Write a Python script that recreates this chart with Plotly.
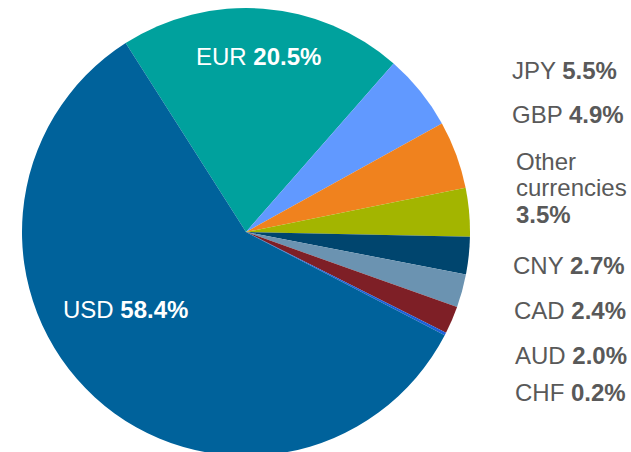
import plotly.graph_objects as go

currencies = ["EUR", "JPY", "GBP", "Other currencies", "CNY", "CAD", "AUD", "CHF", "USD"]
shares = [20.5, 5.5, 4.9, 3.5, 2.7, 2.4, 2.0, 0.2, 58.4]
colors = ["#00a19d", "#6199ff", "#f0821e", "#a3b500", "#00456e",
          "#6b93b1", "#7e1f26", "#1d5fd8", "#00629b"]

# pie circle runs slightly past the bottom edge in the reference
W, H = 631, 456
FONT = "Arial, Liberation Sans, sans-serif"
GREY = "#595959"


def px(x):
    return x / W


def py(y):
    return (H - y) / H


fig = go.Figure(go.Pie(
    labels=currencies,
    values=shares,
    marker=dict(colors=colors, line=dict(width=0)),
    sort=False,
    direction="clockwise",
    rotation=-32.5,
    textinfo="none",
    hoverinfo="label+value",
    showlegend=False,
    domain=dict(x=[px(22), px(470)], y=[0, py(8)]),
))


def label(name, val):
    return f"{name} <b>{val:.1f}%</b>"


annotations = []
annotations.append(dict(x=px(126), y=py(309), text=label("USD", shares[8]),
                        font=dict(family=FONT, size=24, color="white"),
                        xanchor="center", yanchor="middle"))
annotations.append(dict(x=px(258), y=py(56), text=label("EUR", shares[0]),
                        font=dict(family=FONT, size=24, color="white"),
                        xanchor="center", yanchor="middle"))

right = [
    (510, 70, label("JPY", shares[1])),
    (510, 115, label("GBP", shares[2])),
    (514, 161, "Other"),
    (514, 188, "currencies"),
    (514, 214, f"<b>{shares[3]:.1f}%</b>"),
    (511, 265, label("CNY", shares[4])),
    (512, 310, label("CAD", shares[5])),
    (513, 355, label("AUD", shares[6])),
    (513, 392, label("CHF", shares[7])),
]
for x, y, t in right:
    annotations.append(dict(x=px(x), y=py(y), text=t,
                            font=dict(family=FONT, size=24, color=GREY),
                            xanchor="left", yanchor="middle"))

for a in annotations:
    a.update(xref="paper", yref="paper", showarrow=False)

fig.update_layout(
    width=W, height=H,
    margin=dict(l=0, r=0, t=0, b=0),
    paper_bgcolor="white",
    plot_bgcolor="white",
    annotations=annotations,
)

page_css = (
    "document.documentElement.style.overflow='hidden';"
    "document.body.style.margin='0';"
    "document.body.style.overflow='hidden';"
)
fig.write_html("out.html", post_script=page_css, config={"displayModeBar": False})
